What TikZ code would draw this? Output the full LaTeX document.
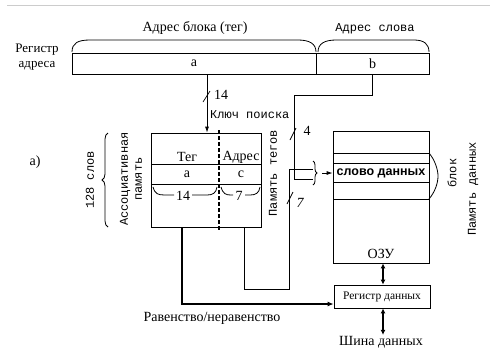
\documentclass[tikz,border=0pt]{standalone}
\usepackage{fontspec}
\setmainfont{Liberation Serif}
\setsansfont{Liberation Sans}
\setmonofont{Liberation Mono}
\usetikzlibrary{arrows.meta,decorations.pathreplacing}
\tikzset{
  box/.style={draw,line width=0.8pt,inner sep=1pt},
  lbl/.style={font=\fontsize{14}{16}\selectfont,inner sep=1pt},
  mlbl/.style={font=\ttfamily\fontsize{12}{14}\selectfont,inner sep=1pt},
  wire/.style={line width=0.8pt},
  bus/.style={line width=1.6pt},
  tick/.style={line width=0.7pt},
}
\begin{document}
\begin{tikzpicture}[x=1pt,y=-1pt]
\path[use as bounding box] (0,0) rectangle (494,349);
\draw[black!20,line width=0.8pt] (7,5) -- (490,5);

% address register
\node[box,lbl,minimum width=244pt,minimum height=21pt] (rega) at (194,63.5) {a};
\node[box,lbl,minimum width=113pt,minimum height=21pt] (regb) at (372.5,63.5) {b};
\node[lbl,align=center,font=\fontsize{13}{15}\selectfont] (reglbl) at (37,57) {Регистр\\адреса};
\node[lbl] (taglbl) at (195,28) {Адрес блока (тег)};
\node[mlbl] (wordlbl) at (375,29) {Адрес слова};
\draw[wire] (72,52) .. controls (72,43) and (78,40) .. (90,40) -- (298,40)
  .. controls (310,40) and (316,44) .. (316,52);
\draw[wire] (318,52) .. controls (318,44) and (324,40) .. (336,40) -- (414,40)
  .. controls (424,40) and (429,44) .. (429,52);

% associative memory
\node[box,minimum width=110pt,minimum height=94pt] (am) at (206,180) {};
\draw[wire] (151,164) -- (261,164);
\draw[wire] (151,184) -- (261,184);
\draw[line width=1.4pt,dashed,dash pattern=on 4pt off 2pt] (219,130) -- (219,230);
\node[lbl] (tegh) at (187,157) {Тег};
\node[lbl] (adrh) at (241,157) {Адрес};
\node[lbl] (tega) at (187,174) {a};
\node[lbl] (adrc) at (241,174) {c};
\draw[wire] (153,187) .. controls (155,194) and (158,195) .. (165,195) -- (174,195);
\node[lbl] (w14) at (183,196) {14};
\draw[wire] (192,195) -- (207,195) .. controls (213,195) and (216,193) .. (217,187);
\draw[wire] (221,187) .. controls (223,194) and (226,195) .. (231,195) -- (233,195);
\node[lbl] (w7) at (239,196) {7};
\draw[wire] (245,195) -- (250,195) .. controls (256,195) and (259,193) .. (260,187);

% labels left
\node[lbl] (parta) at (35,162) {а)};
\node[mlbl,rotate=90] (words) at (90,180) {128 слов};
\draw[wire,decorate,decoration={brace,amplitude=6pt}] (108,227) -- (108,133);
\node[mlbl,rotate=90,align=center] (amlbl) at (131,179) {Ассоциативная\\память};
\node[mlbl,rotate=90] (taglbl2) at (273,173) {Память тегов};

% search key
\coordinate (kx) at (207,0);
\draw[wire,-{Latex[length=6pt,width=4pt]}] (rega.south -| kx) -- (am.north -| kx);
\draw[tick] (203,102) -- (210,91);
\node[lbl] (k14) at (221,95) {14};
\node[mlbl,anchor=west] (keylbl) at (209,115) {Ключ поиска};

% data memory
\node[box,minimum width=96pt,minimum height=132pt] (dm) at (381,197) {};
\draw[wire] (333,153) -- (429,153);
\draw[wire] (333,163) -- (429,163);
\draw[wire] (333,182) -- (429,182);
\draw[wire] (333,199) -- (429,199);
\node[font=\sffamily\bfseries\fontsize{12.5}{14}\selectfont,inner sep=1pt] (word) at (381,173) {слово данных};
\node[lbl] (ozu) at (381,254) {ОЗУ};
\draw[wire] (429,153) .. controls (435,160) and (438,170) .. (438,176)
  .. controls (438,183) and (435,192) .. (429,199);
\node[mlbl,rotate=90] (blk) at (452,173) {блок};
\node[mlbl,rotate=90] (dmlbl) at (473,189) {Память данных};

% word address path
\coordinate (wa) at (294,95);
\draw[wire] (regb.south) |- (wa) |- (313,179);
\draw[tick] (290,140) -- (296,128);
\node[lbl] (w4) at (307,131) {4};
\coordinate (ax) at (244,289);
\draw[wire] (am.south -| ax) -- (ax) -- (289,289) -- (289,169) -- (313,169);
\draw[tick] (287,204) -- (293,192);
\node[lbl,font=\itshape\fontsize{14}{16}\selectfont] (w7b) at (300,203) {7};
\draw[wire,decorate,decoration={brace,amplitude=4pt}] (313,161) -- (313,185);
\coordinate (bt) at (322,173);
\draw[wire,-{Latex[length=6pt,width=4pt]}] (bt) -- (word.west -| dm.west);

% data register
\node[box,minimum width=96pt,minimum height=23pt,font=\fontsize{11.5}{13}\selectfont] (dreg) at (382,296.5) {Регистр данных};
\coordinate (dx) at (383,0);
\draw[bus,{Latex[length=5pt,width=5pt]}-{Latex[length=5pt,width=5pt]}] (dm.south -| dx) -- (dreg.north -| dx);
\node[lbl] (busl) at (381,342) {Шина данных};
\draw[bus,{Latex[length=5pt,width=5pt]}-{Latex[length=5pt,width=5pt]}] (dreg.south -| dx) -- (busl.north -| dx);

% equality
\coordinate (eq) at (182,304);
\draw[bus,-{Latex[length=6pt,width=5pt]}] (am.south -| eq) -- (eq) -- (eq -| dreg.west);
\node[lbl] (eqlbl) at (212,318) {Равенство/неравенство};
\end{tikzpicture}
\end{document}
